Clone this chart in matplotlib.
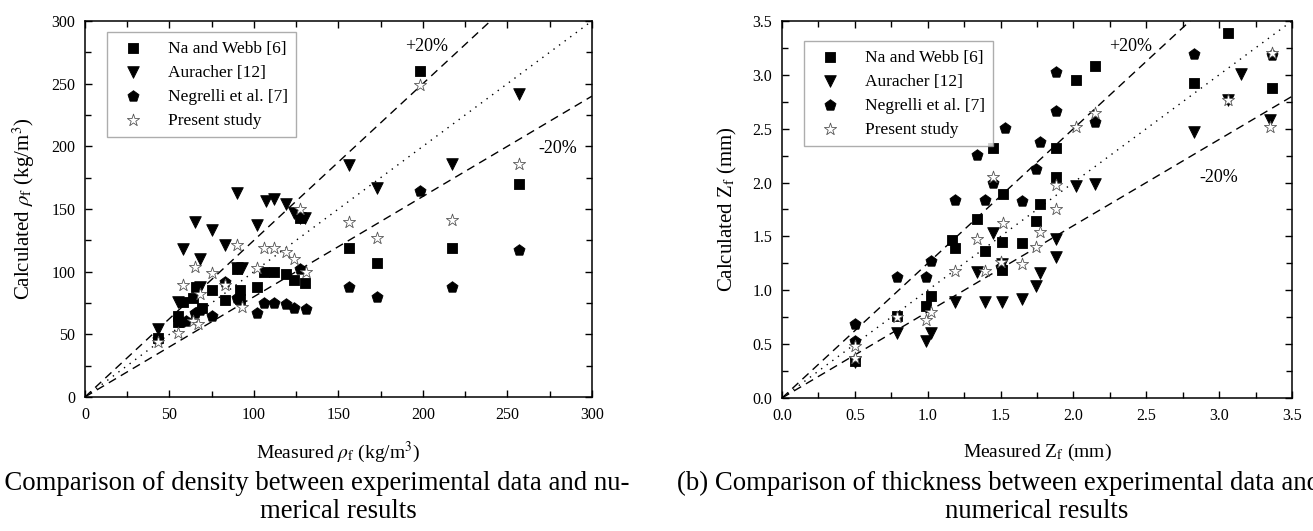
import matplotlib
matplotlib.use("Agg")
import matplotlib.pyplot as plt
import numpy as np
from matplotlib.ticker import MultipleLocator, FormatStrFormatter

plt.rcParams['font.family'] = ['Liberation Serif', 'DejaVu Serif']
plt.rcParams['mathtext.fontset'] = 'stix'

labels = ["Na and Webb [6]", "Auracher [12]", "Negrelli et al. [7]", "Present study"]

# (a) density, kg/m3 : measured / calculated
na_rho_x = [43, 55, 55, 58, 64, 66, 69, 75, 83, 90, 92, 92, 102, 106, 112, 119, 124, 127, 130, 156, 173, 198, 217, 257]
na_rho_y = [47, 65, 60, 76, 79, 88, 71, 85, 77, 102, 85, 78, 88, 100, 100, 98, 93, 143, 91, 119, 107, 260, 119, 170]
au_rho_x = [43, 55, 58, 65, 68, 68, 75, 83, 90, 90, 93, 102, 107, 112, 119, 124, 127, 130, 156, 173, 217, 257]
au_rho_y = [54, 76, 118, 140, 110, 88, 133, 121, 163, 103, 103, 137, 156, 158, 154, 147, 143, 143, 185, 167, 186, 242]
ne_rho_x = [43, 57, 60, 65, 68, 75, 83, 90, 102, 106, 112, 119, 124, 127, 131, 156, 173, 198, 217, 257]
ne_rho_y = [46, 60, 61, 67, 69, 65, 92, 79, 67, 75, 75, 74, 71, 102, 70, 88, 80, 164, 88, 117]
ps_rho_x = [43, 55, 58, 64, 65, 67, 68, 75, 83, 90, 93, 102, 106, 112, 119, 124, 127, 131, 156, 173, 198, 217, 257]
ps_rho_y = [44, 51, 89, 61, 104, 58, 82, 99, 89, 121, 72, 103, 119, 119, 116, 110, 150, 100, 140, 127, 249, 141, 186]

# (b) thickness, mm : measured / calculated
na_z_x = [0.5, 0.79, 0.99, 1.02, 1.17, 1.19, 1.34, 1.39, 1.45, 1.51, 1.52, 1.51, 1.65, 1.74, 1.77, 1.88, 1.88, 2.02, 2.15, 2.83, 3.06, 3.36]
na_z_y = [0.34, 0.76, 0.85, 0.95, 1.47, 1.39, 1.66, 1.36, 2.32, 1.45, 1.89, 1.19, 1.44, 1.64, 1.80, 2.32, 2.05, 2.95, 3.08, 2.92, 3.39, 2.88]
au_z_x = [0.5, 0.79, 0.99, 1.02, 1.19, 1.34, 1.39, 1.45, 1.51, 1.51, 1.65, 1.74, 1.77, 1.88, 1.88, 2.02, 2.15, 2.83, 3.06, 3.15, 3.35]
au_z_y = [0.33, 0.60, 0.53, 0.60, 0.89, 1.17, 0.89, 1.53, 1.24, 0.89, 0.92, 1.04, 1.16, 1.48, 1.31, 1.97, 1.99, 2.47, 2.77, 3.01, 2.58]
ne_z_x = [0.5, 0.5, 0.79, 0.99, 1.02, 1.19, 1.34, 1.39, 1.45, 1.5, 1.53, 1.65, 1.74, 1.77, 1.88, 1.88, 2.15, 2.83, 3.36]
ne_z_y = [0.69, 0.53, 1.12, 1.12, 1.27, 1.84, 2.26, 1.84, 2.00, 1.22, 2.51, 1.83, 2.13, 2.38, 3.03, 2.66, 2.56, 3.19, 3.18]
ps_z_x = [0.5, 0.5, 0.79, 0.99, 1.02, 1.19, 1.34, 1.39, 1.45, 1.52, 1.5, 1.65, 1.74, 1.77, 1.88, 1.88, 2.02, 2.15, 3.06, 3.36, 3.35]
ps_z_y = [0.48, 0.37, 0.75, 0.72, 0.80, 1.18, 1.48, 1.18, 2.05, 1.62, 1.26, 1.24, 1.40, 1.54, 1.98, 1.75, 2.52, 2.65, 2.77, 3.20, 2.52]


def panel(ax, series, vmax, major, fmt, ylab, p20, m20, leg_top):
    ref = np.array([0, vmax])
    ax.plot(ref, ref, color="k", lw=1.0, ls=(0, (1, 4)), zorder=1)
    ax.plot(ref, 1.25 * ref, color="k", lw=1.0, ls=(0, (6, 4)), zorder=1)
    ax.plot(ref, 0.8 * ref, color="k", lw=1.0, ls=(0, (6, 4)), zorder=1)
    styles = [("s", "k", "k", 50), ("v", "k", "k", 70), ("p", "k", "k", 70), ("*", "white", "#555555", 85)]
    for (x, y), lab, (m, fc, ec, s) in zip(series, labels, styles):
        ax.scatter(x, y, marker=m, s=s, facecolor=fc, edgecolor=ec, linewidth=0.6, label=lab, zorder=3)
    ax.set_xlim(0, vmax)
    ax.set_ylim(0, vmax)
    for axis in (ax.xaxis, ax.yaxis):
        axis.set_major_locator(MultipleLocator(major))
        axis.set_minor_locator(MultipleLocator(major / 2))
        axis.set_major_formatter(FormatStrFormatter(fmt))
    ax.tick_params(which="both", direction="in", top=True, right=True, labelsize=11.5, width=1.0)
    ax.tick_params(which="major", length=5, pad=7)
    ax.tick_params(which="minor", length=4)
    for sp in ax.spines.values():
        sp.set_linewidth(1.1)
    ax.set_ylabel(ylab, fontsize=15, labelpad=10)
    ax.text(p20[0], p20[1], "+20%", fontsize=13, ha="center", va="center")
    ax.text(m20[0], m20[1], "-20%", fontsize=13, ha="center", va="center")
    leg = ax.legend(loc="upper left", bbox_to_anchor=(0.043, leg_top), fontsize=12.5, frameon=True,
                    fancybox=False, edgecolor="#999999", borderpad=0.5, labelspacing=0.45,
                    handletextpad=1.0, borderaxespad=0, scatterpoints=1)
    leg.get_frame().set_linewidth(1.0)


fig = plt.figure(figsize=(13.13, 5.31), dpi=100)
ax1 = fig.add_axes([0.0647, 0.2524, 0.3861, 0.7081])
ax2 = fig.add_axes([0.5956, 0.2505, 0.3884, 0.7100])

panel(ax1, [(na_rho_x, na_rho_y), (au_rho_x, au_rho_y), (ne_rho_x, ne_rho_y), (ps_rho_x, ps_rho_y)],
      300, 50, "%d", r"Calculated $\rho_{\mathrm{f}}$ (kg/m$^3$)", (202, 280), (280, 198), 0.971)
panel(ax2, [(na_z_x, na_z_y), (au_z_x, au_z_y), (ne_z_x, ne_z_y), (ps_z_x, ps_z_y)],
      3.5, 0.5, "%.1f", r"Calculated Z$_{\mathrm{f}}$ (mm)", (2.39, 3.26), (3.0, 2.05), 0.947)

fig.text(338 / 1313, 1 - 452 / 531, r"Measured $\rho_{\mathrm{f}}$ (kg/m$^3$)", fontsize=14, ha="center", va="center")
fig.text(1037 / 1313, 1 - 452 / 531, r"Measured Z$_{\mathrm{f}}$ (mm)", fontsize=14, ha="center", va="center")

fig.text(630 / 1313, 1 - 483 / 531, "(a) Comparison of density between experimental data and nu-",
         fontsize=19.3, ha="right", va="center")
fig.text(338 / 1313, 1 - 512 / 531, "merical results", fontsize=19.3, ha="center", va="center")
fig.text(677 / 1313, 1 - 483 / 531, "(b) Comparison of thickness between experimental data and",
         fontsize=19.3, ha="left", va="center")
fig.text(1037 / 1313, 1 - 512 / 531, "numerical results", fontsize=19.3, ha="center", va="center")

fig.savefig("out.png", dpi=100)
